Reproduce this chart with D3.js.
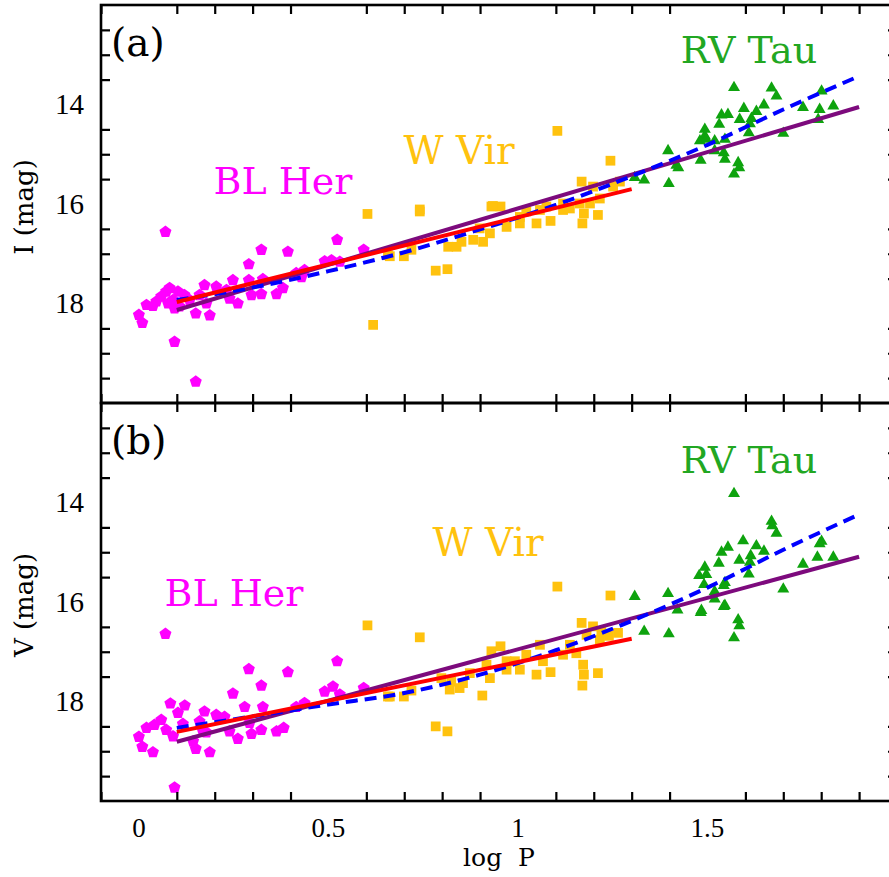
<!DOCTYPE html>
<html>
<head>
<meta charset="utf-8">
<script src="https://cdn.jsdelivr.net/npm/d3@7"></script>
<style>
  html, body { margin: 0; padding: 0; background: #fff; overflow: hidden; }
  svg { display: block; }
</style>
</head>
<body>
<svg id="chart" width="889" height="877"></svg>
<script>
// ---- Period–luminosity data: [log P, magnitude] ----
const blHerI = [[0.070,16.56],[0.0,18.23],[0.009,18.39],[0.02,18.03],[0.037,18.05],[0.059,17.86],[0.081,17.69],[0.09,17.93],[0.094,18.10],[0.094,18.77],[0.103,17.76],[0.12,17.83],[0.150,19.57],[0.150,18.20],[0.173,17.63],[0.178,18.00],[0.187,18.24],[0.16,17.83],[0.204,17.66],[0.231,17.73],[0.248,17.53],[0.239,17.90],[0.261,18.00],[0.290,17.21],[0.290,17.53],[0.297,17.83],[0.323,16.92],[0.327,17.51],[0.323,17.81],[0.363,17.81],[0.380,17.69],[0.393,16.96],[0.415,17.39],[0.437,17.33],[0.429,17.47],[0.490,17.15],[0.508,17.13],[0.523,16.72],[0.530,17.16],[0.593,16.92],[0.072,17.76],[0.046,17.96],[0.077,18.00],[0.134,17.93],[0.107,18.06]];
const wVirI = [[0.603,16.20],[0.618,18.43],[0.657,17.03],[0.741,16.15],[0.783,17.34],[0.814,17.31],[0.662,17.05],[0.699,17.05],[0.719,16.92],[0.816,16.86],[0.838,16.86],[0.851,16.76],[0.882,16.72],[0.908,16.76],[0.926,16.59],[0.899,16.49],[0.930,16.05],[0.954,16.05],[0.970,16.46],[1.005,16.39],[1.005,16.26],[1.022,16.15],[1.049,16.39],[1.058,16.12],[1.086,16.34],[1.119,16.12],[1.137,16.09],[1.170,16.39],[1.174,16.19],[1.211,16.22],[1.19,15.99],[1.163,15.99],[1.104,14.53],[1.244,15.13],[0.934,16.04],[0.741,16.11],[1.168,15.55],[1.198,15.65],[1.216,15.89],[1.269,15.55],[1.251,15.65],[1.119,15.99],[1.075,16.05]];
const rvTauI = [[1.570,13.64],[1.669,13.65],[1.682,13.81],[1.801,13.71],[1.649,13.99],[1.596,14.06],[1.629,14.12],[1.537,14.19],[1.554,14.18],[1.585,14.28],[1.616,14.26],[1.612,14.37],[1.531,14.38],[1.609,14.55],[1.752,14.04],[1.796,14.08],[1.792,14.28],[1.832,14.01],[1.700,14.56],[1.493,14.48],[1.493,14.61],[1.480,14.71],[1.497,14.68],[1.519,14.71],[1.546,14.68],[1.519,14.91],[1.543,14.95],[1.546,15.08],[1.482,15.10],[1.418,15.20],[1.396,14.91],[1.581,15.15],[1.584,15.25],[1.570,15.38],[1.398,15.57],[1.333,15.50],[1.308,15.45],[1.423,15.25]];

const blHerV = [[0.070,16.64],[0.094,19.73],[0.0,18.71],[0.009,18.91],[0.037,19.02],[0.02,18.53],[0.041,18.47],[0.059,18.37],[0.072,18.57],[0.083,18.04],[0.090,18.70],[0.103,18.23],[0.121,18.08],[0.116,18.45],[0.143,18.80],[0.150,18.95],[0.160,18.40],[0.173,18.20],[0.178,18.62],[0.187,19.02],[0.204,18.27],[0.226,18.31],[0.239,18.60],[0.248,17.84],[0.261,18.75],[0.279,18.11],[0.290,17.35],[0.292,18.43],[0.297,18.65],[0.323,17.68],[0.327,18.11],[0.323,18.57],[0.363,18.60],[0.382,18.53],[0.393,17.41],[0.415,18.11],[0.437,18.03],[0.490,17.80],[0.512,17.70],[0.523,17.19],[0.530,17.86],[0.593,17.73],[0.169,18.60]];
const wVirV = [[0.603,16.47],[0.657,17.90],[1.104,15.69],[1.244,15.87],[0.741,16.71],[0.783,18.50],[0.814,18.60],[0.662,17.90],[0.699,17.90],[0.719,17.78],[0.798,17.53],[0.820,17.76],[0.846,17.73],[0.824,17.60],[0.855,17.63],[0.873,17.43],[0.906,17.88],[0.926,17.53],[0.930,16.99],[0.954,16.89],[0.917,17.26],[0.970,17.36],[1.005,17.36],[0.992,17.19],[1.022,17.06],[1.049,17.46],[1.058,16.86],[1.066,17.19],[1.086,17.41],[1.119,17.06],[1.137,16.86],[1.154,17.03],[1.168,16.42],[1.172,17.26],[1.174,17.46],[1.170,17.68],[1.181,16.66],[1.198,16.49],[1.211,17.43],[1.216,16.76],[1.264,16.62],[0.970,17.19],[1.24,16.68],[1.22,16.60]];
const rvTauV = [[1.570,13.80],[1.669,14.36],[1.671,14.45],[1.682,14.60],[1.801,14.76],[1.796,14.81],[1.594,14.75],[1.629,14.85],[1.554,14.88],[1.537,14.98],[1.649,14.96],[1.584,15.14],[1.614,15.05],[1.612,15.18],[1.530,15.20],[1.790,15.08],[1.832,15.08],[1.752,15.22],[1.609,15.42],[1.700,15.72],[1.493,15.28],[1.497,15.43],[1.478,15.45],[1.491,15.63],[1.546,15.59],[1.543,15.65],[1.519,15.77],[1.396,15.81],[1.308,15.87],[1.519,15.92],[1.546,16.05],[1.484,16.15],[1.543,16.07],[1.421,16.14],[1.482,16.19],[1.581,16.34],[1.584,16.46],[1.333,16.57],[1.398,16.62],[1.570,16.70]];

// ---- Fitted PL relations ----
// linear fits: [[logP start, mag], [logP end, mag]]
const fitAllI = [[0.1,18.13],[1.9,14.05]];   // purple: all type II Cepheids
const fitBLWI = [[0.1,17.97],[1.3,15.70]];   // red: BL Her + W Vir
const fitAllV = [[0.1,18.81],[1.9,15.09]];
const fitBLWV = [[0.1,18.61],[1.3,16.74]];
// blue dashed non-linear relation, sampled along log P
const curveLogP = [0.1, 0.3, 0.5, 0.7, 0.9, 1.1, 1.3, 1.5, 1.7, 1.9];
const curveI    = [17.93, 17.68, 17.35, 16.97, 16.51, 16.02, 15.44, 14.81, 14.10, 13.43];
const curveV    = [18.53, 18.30, 18.06, 17.83, 17.46, 16.97, 16.38, 15.71, 14.95, 14.24];

// ---- Axis ticks ----
const xMajorTicks = [0, 0.5, 1, 1.5];
const xTickLabels = ["0", "0.5", "1", "1.5"];
const yMajorTicks = [12, 14, 16, 18, 20];
const yTickLabels = ["14", "16", "18"];

const svg = d3.select("#chart");

const COLORS = {
  bl: "#ff00ff", wv: "#ffc20e", rv: "#0ea30e",
  all: "#7d0a7d", blw: "#ff0000", dash: "#0000ff"
};

const x = d3.scaleLinear().domain([-0.1, 2.0]).range([101, 897]);

// pentagon marker for BL Her stars
const pentagon = {
  draw(ctx, size) {
    const r = Math.sqrt(size / 2.3776);
    for (let i = 0; i < 5; i++) {
      const a = -Math.PI / 2 + i * 2 * Math.PI / 5;
      const px = r * Math.cos(a), py = r * Math.sin(a);
      if (i === 0) ctx.moveTo(px, py); else ctx.lineTo(px, py);
    }
    ctx.closePath();
  }
};

const serif = "'DejaVu Serif', serif";
const tickFont = "'Liberation Serif', 'Times New Roman', serif";

function panel(cfg) {
  const y = d3.scaleLinear().domain([12, 20]).range([cfg.top, cfg.bottom]);
  const g = svg.append("g");

  // data points
  const sym = (type, size) => d3.symbol().type(type).size(size)();
  g.append("g").selectAll("path").data(cfg.wv).join("path")
    .attr("transform", d => `translate(${x(d[0])},${y(d[1])})`)
    .attr("d", sym(d3.symbolSquare, 95)).attr("fill", COLORS.wv);
  g.append("g").selectAll("path").data(cfg.bl).join("path")
    .attr("transform", d => `translate(${x(d[0])},${y(d[1])})`)
    .attr("d", sym(pentagon, 95)).attr("fill", COLORS.bl);
  g.append("g").selectAll("path").data(cfg.rv).join("path")
    .attr("transform", d => `translate(${x(d[0])},${y(d[1]) + 1})`)
    .attr("d", sym(d3.symbolTriangle, 62)).attr("fill", COLORS.rv);

  // fit lines
  const line = d3.line().x(d => x(d[0])).y(d => y(d[1]));
  const smooth = d3.line().x(d => x(d[0])).y(d => y(d[1])).curve(d3.curveMonotoneX);
  const curvePts = curveLogP.map((p, i) => [p, cfg.curve[i]]);
  g.append("path").attr("d", line(cfg.fitAll)).attr("stroke", COLORS.all)
    .attr("stroke-width", 4).attr("fill", "none");
  g.append("path").attr("d", smooth(curvePts)).attr("stroke", COLORS.dash)
    .attr("stroke-width", 4).attr("stroke-dasharray", "12,7").attr("fill", "none");
  g.append("path").attr("d", line(cfg.fitBLW)).attr("stroke", COLORS.blw)
    .attr("stroke-width", 4).attr("fill", "none");

  // frame axes with inward ticks
  const xMinor = d3.range(-0.1, 2.0001, 0.1).map(v => +v.toFixed(2)).filter(v => !xMajorTicks.includes(v));
  const yMinor = d3.range(12, 20.001, 0.5).filter(v => !yMajorTicks.includes(v));

  const bottom = g.append("g").attr("transform", `translate(0,${cfg.bottom})`);
  bottom.call(d3.axisTop(x).tickValues(xMajorTicks).tickSize(17).tickFormat(""));
  bottom.call(d3.axisTop(x).tickValues(xMinor).tickSize(9).tickFormat(""));
  const top = g.append("g").attr("transform", `translate(0,${cfg.top})`);
  top.call(d3.axisBottom(x).tickValues(xMajorTicks).tickSize(17).tickFormat(""));
  top.call(d3.axisBottom(x).tickValues(xMinor).tickSize(9).tickFormat(""));
  const left = g.append("g").attr("transform", `translate(101,0)`);
  left.call(d3.axisRight(y).tickValues(yMajorTicks).tickSize(17).tickFormat(""));
  left.call(d3.axisRight(y).tickValues(yMinor).tickSize(9).tickFormat(""));
  const right = g.append("g").attr("transform", `translate(897,0)`);
  right.call(d3.axisLeft(y).tickValues(yMajorTicks).tickSize(17).tickFormat(""));
  right.call(d3.axisLeft(y).tickValues(yMinor).tickSize(9).tickFormat(""));
  g.selectAll(".domain").remove();
  g.selectAll(".tick line").attr("stroke", "#000").attr("stroke-width", 2.2);

  g.append("rect").attr("x", 101).attr("y", cfg.top).attr("width", 897 - 101)
    .attr("height", cfg.bottom - cfg.top).attr("fill", "none")
    .attr("stroke", "#000").attr("stroke-width", 2.6);

  // y tick labels
  g.append("g").selectAll("text").data(yTickLabels).join("text")
    .attr("x", 84).attr("y", d => y(+d)).attr("dy", "0.34em")
    .attr("text-anchor", "end").attr("font-family", tickFont)
    .attr("font-size", 29).text(d => d);

  // y axis title
  g.append("text")
    .attr("transform", `translate(33,${(cfg.top + cfg.bottom) / 2 + 3}) rotate(-90)`)
    .attr("text-anchor", "middle").attr("font-family", serif)
    .attr("font-size", 26).text(cfg.ylabel);

  // panel tag
  g.append("text").attr("x", 111).attr("y", cfg.top + 51)
    .attr("font-family", serif).attr("font-size", 39).text(cfg.tag);

  // group names
  cfg.names.forEach(n => {
    g.append("text").attr("x", n.x).attr("y", n.y)
      .attr("text-anchor", "middle").attr("font-family", serif)
      .attr("font-size", n.s).attr("fill", n.c).text(n.t);
  });
  return y;
}

panel({
  top: 5, bottom: 403, ylabel: "I (mag)", tag: "(a)",
  bl: blHerI, wv: wVirI, rv: rvTauI, curve: curveI,
  fitAll: fitAllI, fitBLW: fitBLWI,
  names: [
    { t: "BL Her", x: 283, y: 194, s: 38, c: COLORS.bl },
    { t: "W Vir", x: 459, y: 164, s: 39, c: COLORS.wv },
    { t: "RV Tau", x: 749, y: 63, s: 38, c: "#22a722" }
  ]
});

panel({
  top: 403, bottom: 801, ylabel: "V (mag)", tag: "(b)",
  bl: blHerV, wv: wVirV, rv: rvTauV, curve: curveV,
  fitAll: fitAllV, fitBLW: fitBLWV,
  names: [
    { t: "BL Her", x: 234, y: 606, s: 38, c: COLORS.bl },
    { t: "W Vir", x: 488, y: 556, s: 39, c: COLORS.wv },
    { t: "RV Tau", x: 749, y: 473, s: 38, c: "#22a722" }
  ]
});

// x tick labels and title
svg.append("g").selectAll("text").data(xMajorTicks).join("text")
  .attr("x", d => x(d)).attr("y", 837).attr("text-anchor", "middle")
  .attr("font-family", tickFont).attr("font-size", 27)
  .text((d, i) => xTickLabels[i]);

svg.append("text").attr("x", x(0.95)).attr("y", 866).attr("text-anchor", "middle")
  .attr("font-family", serif).attr("font-size", 25).style("white-space", "pre")
  .text("log  P");
</script>
</body>
</html>
